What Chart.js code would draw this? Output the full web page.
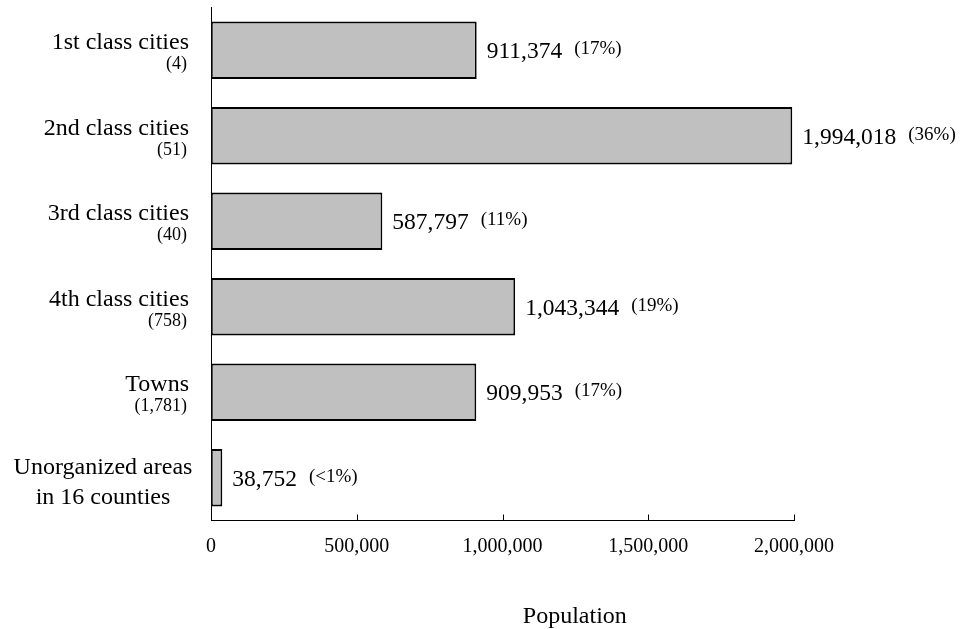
<!DOCTYPE html>
<html>
<head>
<meta charset="utf-8">
<script src="https://cdn.jsdelivr.net/npm/chart.js@4/dist/chart.umd.min.js"></script>
<style>
html,body{margin:0;padding:0;background:#fff;}
#wrap{width:964px;height:629px;position:relative;}
</style>
</head>
<body>
<div id="wrap"><canvas id="c" width="964" height="629"></canvas></div>
<script>
const categoryNames = [["1st class cities"],["2nd class cities"],["3rd class cities"],["4th class cities"],["Towns"],["Unorganized areas","in 16 counties"]];
const categoryCounts = ["(4)","(51)","(40)","(758)","(1,781)",""];
const populationValues = [911374, 1994018, 587797, 1043344, 909953, 38752];
const shareLabels = ["(17%)","(36%)","(11%)","(19%)","(17%)","(<1%)"];
const xTickValues = [0, 500000, 1000000, 1500000, 2000000];
const axisTitle = "Population";

const SERIF = '"Liberation Serif", "Times New Roman", serif';

const labelPlugin = {
  id: 'labels',
  afterDraw(chart) {
    const ctx = chart.ctx;
    const y = chart.scales.y, x = chart.scales.x;
    const area = chart.chartArea;
    ctx.save();
    ctx.fillStyle = '#000';
    categoryNames.forEach((lines, i) => {
      const cy = y.getPixelForTick(i);
      if (lines.length === 1) {
        ctx.textAlign = 'right';
        ctx.textBaseline = 'alphabetic';
        ctx.font = '24px ' + SERIF;
        ctx.fillText(lines[0], area.left - 22, cy - 1);
        if (categoryCounts[i]) {
          ctx.font = '18px ' + SERIF;
          ctx.fillText(categoryCounts[i], area.left - 24, cy + 19);
        }
      } else {
        ctx.textAlign = 'center';
        ctx.textBaseline = 'alphabetic';
        ctx.font = '24px ' + SERIF;
        lines.forEach((ln, k) => {
          ctx.fillText(ln, area.left - 108, cy - 4 + k * 30);
        });
      }
    });
    ctx.strokeStyle = '#000';
    ctx.lineWidth = 1;
    xTickValues.forEach(v => {
      const px = Math.round(x.getPixelForValue(v)) + 0.5;
      ctx.beginPath();
      ctx.moveTo(px, area.bottom);
      ctx.lineTo(px, area.bottom - 6);
      ctx.stroke();
    });
    ctx.textAlign = 'center';
    ctx.textBaseline = 'alphabetic';
    ctx.font = '24px ' + SERIF;
    ctx.fillText(axisTitle, area.left + area.width * 0.624, 623);
    const meta = chart.getDatasetMeta(0);
    meta.data.forEach((bar, i) => {
      const vx = bar.x + 10;
      ctx.textAlign = 'left';
      ctx.textBaseline = 'middle';
      ctx.font = '23.5px ' + SERIF;
      const txt = populationValues[i].toLocaleString('en-US');
      ctx.fillText(txt, vx, bar.y + 2);
      const w = ctx.measureText(txt).width;
      ctx.font = '19px ' + SERIF;
      ctx.fillText(shareLabels[i], vx + w + 12, bar.y - 1);
    });
    ctx.restore();
  }
};

new Chart(document.getElementById('c'), {
  type: 'bar',
  data: {
    labels: categoryNames.map(l => l.join(' ')),
    datasets: [{
      data: populationValues,
      backgroundColor: '#c0c0c0',
      borderColor: '#000',
      borderWidth: 1.8,
      borderSkipped: false,
      categoryPercentage: 1,
      barPercentage: 0.67
    }]
  },
  options: {
    indexAxis: 'y',
    responsive: false,
    animation: false,
    devicePixelRatio: 1,
    layout: { padding: { left: 203, right: 170, top: 7.5, bottom: 64.5 } },
    plugins: { legend: { display: false }, tooltip: { enabled: false }, title: { display: false } },
    scales: {
      x: {
        min: 0, max: 2000000,
        afterBuildTicks(scale) { scale.ticks = xTickValues.map(v => ({ value: v })); },
        grid: { display: false },
        border: { display: true, color: '#000', width: 1 },
        ticks: {
          padding: 6,
          color: '#000',
          font: { family: SERIF, size: 20 },
          maxRotation: 0,
          callback: v => Number(v).toLocaleString('en-US')
        }
      },
      y: {
        grid: { display: false },
        border: { display: true, color: '#000', width: 1 },
        ticks: { display: false }
      }
    }
  },
  plugins: [labelPlugin]
});
</script>
</body>
</html>
